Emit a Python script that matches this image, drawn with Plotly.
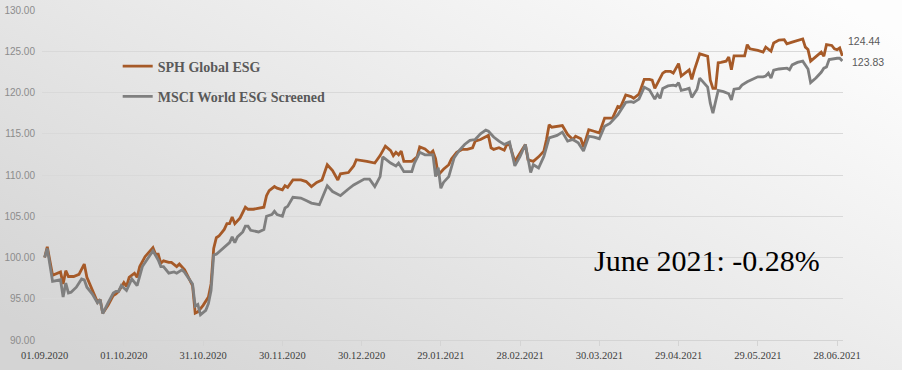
import base64
import pandas as pd
import plotly.graph_objects as go

start_date = "2020-09-01"

sph_day = [0, 1, 3, 6, 7, 8, 9, 11, 13, 15, 16, 18, 20, 21, 22, 24, 26, 27, 28, 30, 31, 32, 34, 35, 36, 38,
           41, 42, 43, 44, 45, 47, 48, 50, 51, 53, 56, 57, 58, 60, 62, 63, 64, 65, 66, 68, 69, 70, 71, 72,
           74, 76, 77, 79, 81, 83, 84, 85, 87, 88, 90, 91, 92, 94, 97, 99, 101, 103, 105, 107, 109, 111,
           112, 115, 117, 118, 122, 125, 127, 129, 131, 132, 133, 134, 135, 136, 139, 141, 142, 144, 146,
           147, 148, 149, 151, 153, 154, 156, 158, 160, 162, 163, 165, 167, 168, 169, 170, 172, 174, 175,
           176, 178, 180, 182, 183, 185, 187, 189, 190, 191, 192, 194, 196, 198, 200, 201, 203, 204, 206,
           208, 210, 212, 215, 217, 218, 220, 222, 223, 225, 227, 229, 230, 231, 234, 235, 237, 238, 240,
           241, 244, 245, 246, 248, 249, 251, 252, 253, 254, 255, 256, 258, 259, 260, 261, 263, 265, 266,
           267, 270, 272, 273, 275, 276, 278, 280, 281, 283, 286, 287, 288, 289, 290, 292, 294, 295, 296,
           298, 299, 300, 301, 302]
sph_value = [100.0, 101.3, 97.85, 98.25, 96.8, 98.4, 97.7, 97.7, 97.95, 99.2, 97.6, 96.2, 94.6, 94.9, 93.25,
             94.2, 95.4, 95.6, 95.9, 96.95, 96.5, 97.6, 98.1, 97.6, 98.9, 100.1, 101.2, 100.4, 100.4, 99.3,
             99.6, 99.4, 99.4, 98.9, 99.2, 98.5, 96.6, 93.25, 93.4, 94.2, 95.2, 96.8, 101.1, 102.4, 102.6,
             103.4, 104.1, 104.1, 104.9, 104.1, 104.8, 106.1, 105.85, 105.85, 106.0, 106.1, 107.5, 108.1,
             108.6, 108.4, 108.2, 108.7, 108.5, 109.4, 109.4, 109.2, 108.6, 109.1, 109.4, 111.25, 110.55,
             109.4, 110.15, 110.3, 111.1, 111.85, 111.65, 111.45, 112.35, 113.5, 112.95, 112.35, 112.75,
             112.45, 112.9, 111.65, 111.65, 112.2, 113.4, 113.15, 112.6, 112.9, 112.0, 110.0, 110.7, 111.25,
             111.95, 112.75, 113.1, 113.1, 113.3, 114.1, 114.3, 114.6, 114.8, 113.3, 113.1, 113.3, 113.0,
             113.7, 113.7, 111.65, 112.75, 113.7, 111.85, 111.65, 112.2, 112.9, 114.3, 116.1, 115.8, 115.9,
             116.0, 114.9, 114.3, 114.7, 114.4, 113.4, 115.5, 115.3, 115.1, 116.9, 116.9, 118.3, 118.2,
             119.7, 119.5, 119.3, 119.8, 121.6, 121.6, 121.5, 120.5, 122.35, 122.55, 122.55, 122.35, 123.5,
             122.0, 122.75, 121.6, 122.75, 124.7, 124.6, 124.4, 121.5, 120.5, 120.5, 123.6, 123.65, 123.8,
             124.3, 122.75, 124.45, 124.45, 124.45, 125.8, 125.3, 125.1, 124.9, 125.5, 125.0, 126.0, 126.35,
             126.4, 125.9, 126.1, 126.4, 126.5, 125.5, 125.2, 123.8, 124.3, 124.9, 124.4, 125.8, 125.7,
             125.3, 125.2, 125.4, 124.44]

msci_day = [0, 1, 3, 5, 6, 7, 8, 9, 10, 12, 14, 15, 16, 18, 20, 21, 22, 24, 26, 27, 28, 29, 31, 33, 35, 37,
            38, 41, 43, 44, 45, 47, 49, 50, 52, 53, 56, 57, 58, 59, 61, 62, 63, 64, 65, 66, 68, 70, 71, 72,
            73, 75, 76, 77, 78, 80, 81, 83, 84, 86, 87, 88, 90, 91, 92, 94, 97, 99, 101, 104, 107, 109, 112,
            115, 117, 121, 123, 125, 127, 128, 131, 133, 134, 136, 139, 140, 142, 144, 147, 148, 149, 150,
            151, 153, 154, 155, 157, 159, 161, 163, 165, 167, 168, 170, 172, 174, 176, 178, 180, 182, 184,
            185, 187, 189, 191, 194, 196, 198, 200, 202, 204, 206, 208, 210, 212, 214, 217, 218, 220, 222,
            223, 225, 227, 229, 231, 232, 233, 234, 236, 238, 239, 240, 241, 243, 244, 245, 247, 248, 249,
            251, 252, 253, 254, 255, 257, 258, 259, 260, 261, 263, 264, 266, 268, 269, 270, 272, 273, 274,
            275, 276, 278, 281, 282, 283, 285, 287, 288, 289, 290, 292, 294, 295, 296, 297, 300, 301, 302]
msci_value = [100.0, 101.1, 97.1, 97.2, 97.3, 95.2, 96.9, 95.7, 95.8, 96.4, 97.4, 97.3, 96.4, 95.6, 94.5,
              94.9, 93.2, 94.5, 95.7, 95.9, 95.9, 96.6, 96.0, 97.4, 96.6, 98.9, 99.35, 100.8, 99.7, 98.9,
              98.9, 98.1, 98.25, 98.1, 98.5, 98.2, 96.8, 94.1, 94.3, 93.05, 93.6, 94.4, 96.0, 100.3, 100.4,
              100.7, 101.3, 101.8, 102.5, 101.8, 102.5, 103.1, 103.8, 103.8, 103.3, 103.2, 103.1, 103.4,
              105.0, 105.2, 105.6, 105.2, 105.0, 106.0, 106.2, 107.3, 107.2, 106.9, 106.6, 106.4, 108.7,
              108.0, 107.5, 108.3, 108.8, 109.5, 109.5, 108.6, 109.8, 112.2, 111.45, 111.1, 111.45, 110.4,
              110.4, 111.45, 112.75, 112.45, 112.45, 109.8, 110.9, 108.4, 109.1, 109.8, 111.1, 112.05, 113.0,
              113.7, 114.2, 114.3, 115.0, 115.45, 115.3, 114.6, 114.1, 113.7, 114.0, 111.1, 112.25, 113.7,
              110.3, 111.25, 110.85, 112.25, 114.5, 114.8, 115.2, 114.1, 114.3, 113.9, 112.9, 114.7, 114.6,
              114.4, 115.9, 116.25, 117.3, 117.8, 118.8, 118.9, 118.8, 119.2, 120.65, 120.3, 119.2, 119.8,
              119.3, 120.5, 120.8, 120.9, 120.8, 121.2, 120.25, 120.4, 120.5, 119.4, 120.4, 121.75, 121.35,
              120.65, 118.7, 117.5, 118.9, 120.25, 120.1, 120.0, 119.85, 119.1, 120.4, 120.5, 120.9, 121.3,
              121.6, 121.7, 121.9, 121.9, 122.0, 122.35, 121.75, 122.7, 122.85, 122.95, 122.75, 123.35,
              123.65, 123.8, 123.35, 122.85, 121.2, 121.75, 122.45, 122.95, 123.1, 124.0, 124.15, 124.15,
              123.83]

series_names = ["SPH Global ESG", "MSCI World ESG Screened"]
series_colors = ["#a65a28", "#7f7f7f"]
note_text = "June 2021: -0.28%"

t0 = pd.Timestamp(start_date)
sph_dates = [t0 + pd.Timedelta(days=d) for d in sph_day]
msci_dates = [t0 + pd.Timedelta(days=d) for d in msci_day]

fig = go.Figure()
fig.add_trace(go.Scatter(x=sph_dates, y=sph_value, mode="lines", name=series_names[0],
                         legendgroup="a", line=dict(color=series_colors[0], width=2.8)))
fig.add_trace(go.Scatter(x=msci_dates, y=msci_value, mode="lines", name=series_names[1],
                         legendgroup="b", line=dict(color=series_colors[1], width=2.8)))

# end-of-series value labels
fig.add_annotation(x=sph_dates[-1], y=sph_value[-1], text=f"{sph_value[-1]:.2f}", showarrow=False,
                   xanchor="left", yanchor="middle", xshift=4, yshift=15,
                   font=dict(family="Liberation Sans", size=10.5, color="#595959"))
fig.add_annotation(x=msci_dates[-1], y=msci_value[-1], text=f"{msci_value[-1]:.2f}", showarrow=False,
                   xanchor="left", yanchor="middle", xshift=8, yshift=-1,
                   font=dict(family="Liberation Sans", size=10.5, color="#595959"))

fig.add_annotation(xref="paper", yref="paper", x=0.83, y=0.24, text=note_text, showarrow=False,
                   xanchor="center", yanchor="middle",
                   font=dict(family="Liberation Serif", size=30, color="#000000"))

svg = ('<svg xmlns="http://www.w3.org/2000/svg" width="902" height="370">'
       '<defs><linearGradient id="g" x1="0" y1="0.85" x2="1" y2="0.1">'
       '<stop offset="0" stop-color="#d4d4d4"/><stop offset="0.5" stop-color="#e9e9e9"/>'
       '<stop offset="1" stop-color="#fdfdfd"/></linearGradient></defs>'
       '<rect width="902" height="370" fill="url(#g)"/></svg>')
src = "data:image/svg+xml;base64," + base64.b64encode(svg.encode()).decode()

L, R, T, B = 42, 59, 10, 30
pw, ph = 902 - L - R, 370 - T - B
fig.add_layout_image(dict(source=src, xref="paper", yref="paper", x=-L / pw, y=1 + T / ph,
                          sizex=902 / pw, sizey=370 / ph, sizing="stretch", xanchor="left",
                          yanchor="top", layer="below"))

fig.update_layout(
    width=902, height=370,
    margin=dict(l=L, r=R, t=T, b=B, autoexpand=False),
    paper_bgcolor="#e6e6e6", plot_bgcolor="rgba(0,0,0,0)",
    showlegend=True,
    legend=dict(x=0.0945, y=0.877, xanchor="left", yanchor="top", bgcolor="rgba(0,0,0,0)",
                tracegroupgap=9, itemwidth=30,
                font=dict(family="Liberation Serif", size=14, color="#595959", weight="bold")),
    xaxis=dict(type="date", range=["2020-08-31T00:00", "2021-06-30T06:00"], automargin=False,
               tick0="2020-09-01", dtick=30 * 86400000, tickformat="%d.%m.%Y",
               showgrid=False, showline=True, linecolor="#d4d4d4", linewidth=1,
               ticks="outside", ticklen=5, tickcolor="#d4d4d4",
               tickfont=dict(family="Liberation Serif", size=10.5, color="#404040")),
    yaxis=dict(range=[90, 130], dtick=5, tick0=90, tickformat=".2f", automargin=False,
               showgrid=True, gridcolor="#d9d9d9", gridwidth=1, zeroline=False,
               showline=False, ticks="", ticklabelstandoff=6,
               tickfont=dict(family="Liberation Sans", size=10, color="#8c8c8c")),
)

fig.write_html("out.html", config={"displayModeBar": False},
               post_script="document.body.style.margin='0';document.body.style.padding='0';"
                           "document.body.style.overflow='hidden';")
